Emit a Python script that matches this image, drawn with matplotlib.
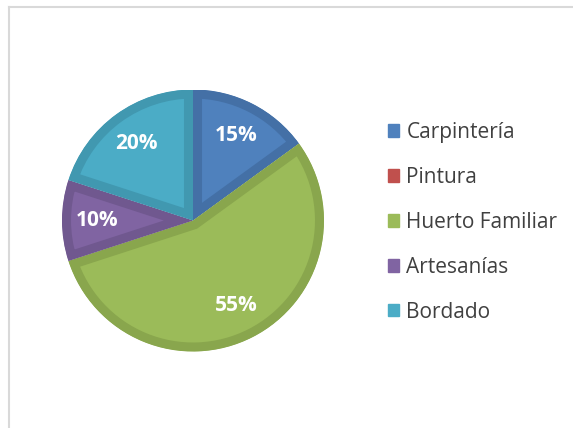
import matplotlib
matplotlib.use("Agg")
import matplotlib.pyplot as plt
from matplotlib.patches import Patch
from matplotlib.lines import Line2D

categories = ["Carpintería", "Pintura", "Huerto Familiar", "Artesanías", "Bordado"]
values = [15, 0, 55, 10, 20]
colors = ["#4F81BD", "#C0504D", "#9BBB59", "#8064A2", "#4BACC6"]
edge_colors = ["#4470A6", "#A94542", "#89A64D", "#70588F", "#4198B0"]

W, H = 573, 428
fig = plt.figure(figsize=(W / 100, H / 100), dpi=100)
fig.patch.set_facecolor("white")

# chart-area frame (left and top edges visible)
fig.add_artist(Line2D([9 / W, 9 / W], [0, 1 - 7 / H], transform=fig.transFigure,
                      color="#D9D9D9", lw=1.5))
fig.add_artist(Line2D([9 / W, 1], [1 - 7 / H, 1 - 7 / H], transform=fig.transFigure,
                      color="#D9D9D9", lw=1.5))

cx, cy, r = 193, 220.5, 131
ax = fig.add_axes([(cx - r) / W, (H - cy - r) / H, 2 * r / W, 2 * r / H])
ax.set_aspect("equal")

def fmt(p):
    return "" if p < 0.5 else f"{p:.0f}%"

wedges, texts, autotexts = ax.pie(values, colors=colors, startangle=90, counterclock=False,
                                  autopct=fmt, pctdistance=0.73, radius=1,
                                  textprops=dict(color="white", fontsize=15, fontweight="bold",
                                                 family="Open Sans"))
for w, ec, v in zip(wedges, edge_colors, values):
    w.set_edgecolor(ec)
    w.set_linewidth(13)
    w.set_clip_on(True)
    w.set_clip_path(w.get_path(), w.get_transform())
    if v == 0:
        w.set_visible(False)
ax.set_xlim(-1, 1)
ax.set_ylim(-1, 1)

handles = [Patch(facecolor=c, edgecolor=c) for c in colors]
fig.legend(handles, categories, loc="upper left", bbox_to_anchor=(369 / W, 1 - 103 / H),
           frameon=False, handlelength=0.55, handleheight=0.55,
           handletextpad=0.35, labelspacing=1.15, labelcolor="#404040",
           prop=dict(family="Open Sans", size=15))

fig.savefig("out.png", dpi=100)
